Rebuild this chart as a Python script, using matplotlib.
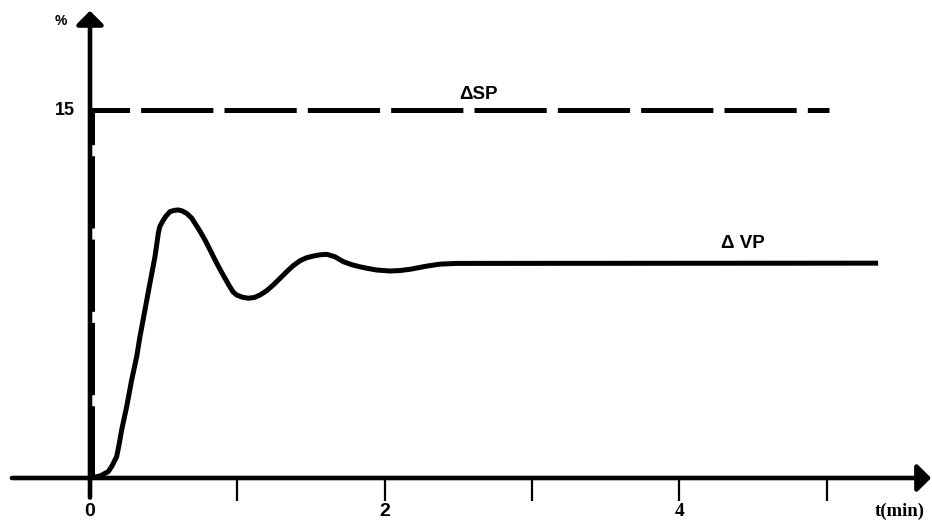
import matplotlib
matplotlib.use("Agg")
import matplotlib.pyplot as plt
from matplotlib.transforms import offset_copy

plt.rcParams['lines.scale_dashes'] = False

# Process variable response (time in minutes, change in %)
vp_t = [0.000, 0.034, 0.068, 0.124, 0.149, 0.181, 0.197, 0.215, 0.249, 0.283,
        0.317, 0.339, 0.373, 0.407, 0.441, 0.464, 0.475, 0.498, 0.516, 0.543,
        0.570, 0.599, 0.625, 0.656, 0.690, 0.713, 0.747, 0.781, 0.815, 0.849,
        0.883, 0.916, 0.945, 0.971, 0.996, 1.035, 1.075, 1.115, 1.154, 1.200,
        1.244, 1.290, 1.335, 1.380, 1.426, 1.470, 1.516, 1.560, 1.607, 1.663,
        1.720, 1.775, 1.833, 1.890, 1.946, 2.037, 2.105, 2.173, 2.286, 2.376,
        2.490, 5.350]
vp_val = [0.00, 0.04, 0.08, 0.26, 0.49, 0.87, 1.35, 1.96, 2.91, 4.00,
          4.95, 5.76, 6.85, 7.95, 9.02, 9.99, 10.27, 10.52, 10.68, 10.86,
          10.91, 10.93, 10.89, 10.79, 10.60, 10.38, 10.06, 9.70, 9.30, 8.89,
          8.50, 8.15, 7.84, 7.59, 7.46, 7.37, 7.33, 7.36, 7.46, 7.64,
          7.87, 8.14, 8.41, 8.66, 8.86, 8.98, 9.05, 9.10, 9.12, 9.02,
          8.82, 8.70, 8.61, 8.54, 8.48, 8.44, 8.46, 8.51, 8.64, 8.72,
          8.75, 8.76]

# Set point step
sp_t = [0.0, 0.0, 5.0]
sp_val = [0.0, 15.0, 15.0]

x_ticks = [0, 1, 2, 3, 4, 5]
x_tick_labels = ['0', '', '2', '', '4', '']
y_ticks = [15]
y_tick_labels = ['15']

fig = plt.figure(figsize=(9.32, 5.27), dpi=100)
ax = fig.add_axes([0, 0, 1, 1])
ax.set_xlim(-0.611, 5.716)
ax.set_ylim(-1.998, 19.49)
ax.axis('off')

# Axes with arrow heads
arrow = dict(arrowstyle='-|>,head_length=0.55,head_width=0.55', lw=3.3,
             color='black', shrinkA=0, shrinkB=0, mutation_scale=15)
ax.annotate('', xy=(5.71, 0), xytext=(-0.53, 0), arrowprops=arrow,
            annotation_clip=False)
ax.annotate('', xy=(0, 19.05), xytext=(0, -0.8), arrowprops=arrow,
            annotation_clip=False)

# Tick marks below the time axis
for t in x_ticks[1:]:
    ax.plot([t, t], [-0.05, -0.95], color='black', lw=1.6,
            solid_capstyle='butt')

serif = 'Liberation Serif'
sans = 'Liberation Sans'
for t, lab in zip(x_ticks, x_tick_labels):
    if lab:
        fam = serif if lab == '4' else sans
        ax.text(t, -1.38, lab, ha='center', va='center', fontsize=14,
                fontweight='bold', family=fam)
for v, lab in zip(y_ticks, y_tick_labels):
    ax.text(-0.105, v, lab, ha='right', va='center', fontsize=13,
            fontweight='bold', family=sans)

ax.text(5.50, -1.35, 't(min)', ha='center', va='center', fontsize=13.5,
        fontweight='bold', family=serif)
ax.text(-0.2, 18.65, '%', ha='center', va='center', fontsize=10,
        fontweight='bold', family=sans)

# Set point (dashed) drawn just right of the vertical axis
sp_trans = offset_copy(ax.transData, fig=fig, x=2, y=0, units='dots')
ax.plot(sp_t, sp_val, color='black', lw=3.6, dashes=(52, 8),
        solid_capstyle='butt', dash_capstyle='butt', transform=sp_trans)

# Process variable response
ax.plot(vp_t, vp_val, color='black', lw=3.6, solid_joinstyle='round',
        solid_capstyle='butt')

ax.text(2.64, 15.62, 'ΔSP', ha='center', va='center', fontsize=13.5,
        fontweight='bold', family=sans)
ax.text(4.43, 9.55, 'Δ VP', ha='center', va='center', fontsize=13.5,
        fontweight='bold', family=sans)

fig.savefig('out.png', dpi=100)
